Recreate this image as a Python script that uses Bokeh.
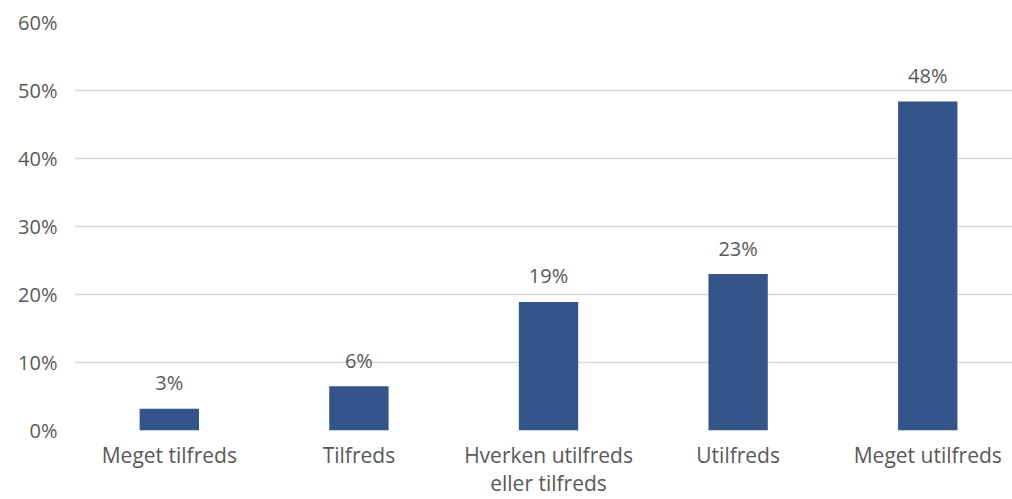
from bokeh.plotting import figure
from bokeh.models import ColumnDataSource, Range1d, FixedTicker
from bokeh.core.properties import value
from bokeh.embed import file_html
from bokeh.resources import INLINE

categories = ["Meget tilfreds", "Tilfreds", "Hverken utilfreds\neller tilfreds", "Utilfreds", "Meget utilfreds"]
values = [3.2, 6.5, 18.9, 23.0, 48.4]
labels = ["3%", "6%", "19%", "23%", "48%"]
yticks = [0, 10, 20, 30, 40, 50, 60]

FONT = "Open Sans"
GREY = "#595959"

xpos = [i + 0.5 for i in range(len(categories))]
src = ColumnDataSource(dict(x=xpos, cat=categories, val=values, lab=labels))

p = figure(width=1012, height=499, x_range=Range1d(0, 4.947),
           y_range=Range1d(0, 60), output_backend="svg", toolbar_location=None,
           min_border_left=74, min_border_right=0, min_border_top=22, min_border_bottom=68)
p.outline_line_color = None
p.background_fill_color = "white"
p.border_fill_color = "white"

p.vbar(x="x", top="val", width=0.313, source=src, fill_color="#34558a", line_color=None)
p.text(x="x", y="val", text="lab", source=src, text_align="center", text_baseline="alphabetic",
       y_offset=-26, text_font=value(FONT), text_font_size="20px", text_color=GREY)

p.xgrid.grid_line_color = None
p.ygrid.ticker = FixedTicker(ticks=yticks)
p.ygrid.grid_line_color = "#d9d9d9"
p.ygrid.grid_line_width = 1.5

p.xaxis.ticker = FixedTicker(ticks=xpos)
p.xaxis.major_label_overrides = {x: c for x, c in zip(xpos, categories)}
p.xaxis.major_label_text_font_size = "21px"
p.xaxis.major_label_text_line_height = 1.0
p.xaxis.major_label_standoff = 10

p.yaxis.ticker = FixedTicker(ticks=yticks)
p.yaxis.major_label_overrides = {t: f"{t}%" for t in yticks}
p.yaxis.major_label_text_font_size = "20px"
p.yaxis.major_label_standoff = 17

for ax in (p.xaxis, p.yaxis):
    ax.axis_line_color = None
    ax.major_tick_line_color = None
    ax.minor_tick_line_color = None
    ax.major_tick_out = 0
    ax.major_tick_in = 0
    ax.minor_tick_out = 0
    ax.major_label_text_font = FONT
    ax.major_label_text_color = GREY

open("out.html", "w").write(file_html(p, INLINE))
